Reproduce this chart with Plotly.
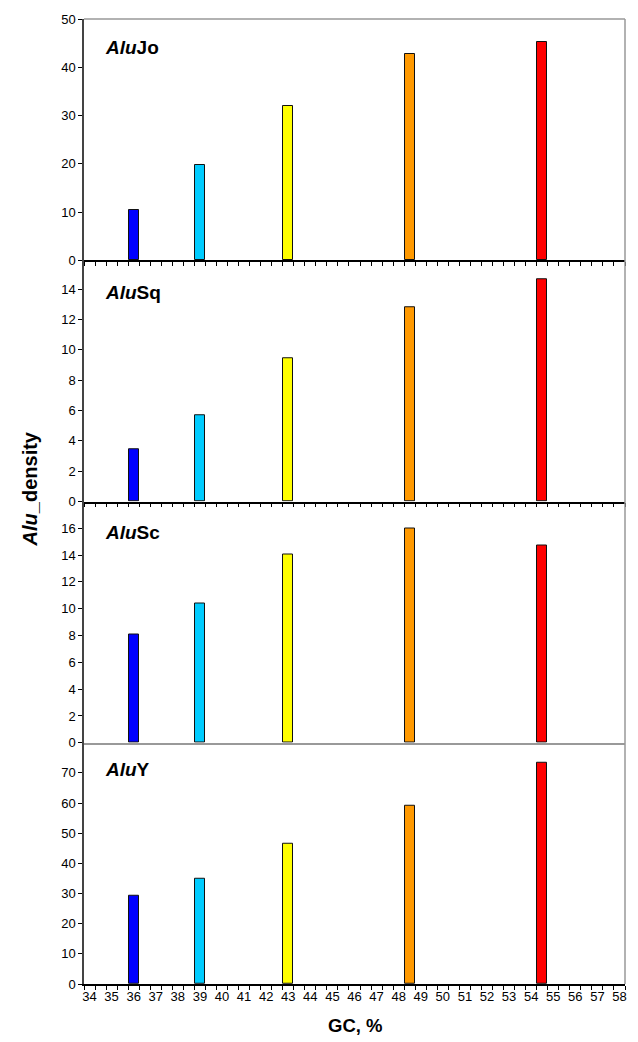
import plotly.graph_objects as go

gc = [36, 39, 43, 48.5, 54.5]
colors = ["#0000FF", "#00CCFF", "#FFFF00", "#FF9900", "#FF0000"]
panel_names = ["<b><i>Alu</i>Jo</b>", "<b><i>Alu</i>Sq</b>", "<b><i>Alu</i>Sc</b>", "<b><i>Alu</i>Y</b>"]
alujo = [10.4, 19.8, 32.0, 42.8, 45.2]
alusq = [3.47, 5.7, 9.45, 12.8, 14.66]
alusc = [8.05, 10.37, 14.08, 15.97, 14.75]
aluy = [29.3, 34.9, 46.6, 59.2, 73.4]
series = [alujo, alusq, alusc, aluy]
y_ranges = [[0, 50], [0, 15.9], [0, 18], [0, 80]]
y_dticks = [10, 2, 2, 10]
y_tickmax = [50, 14, 16, 70]
x_ticks = list(range(34, 59))

FONT = "Liberation Sans, Arial, sans-serif"
domains = [[0.75, 1.0], [0.5, 0.75], [0.25, 0.5], [0.0, 0.25]]

fig = go.Figure()
layout = dict()
for i, vals in enumerate(series):
    n = i + 1
    xa = "x" if n == 1 else f"x{n}"
    ya = "y" if n == 1 else f"y{n}"
    fig.add_trace(go.Bar(
        x=gc, y=vals, width=0.45, xaxis=xa, yaxis=ya,
        marker=dict(color=colors, line=dict(color="#111", width=1)),
        showlegend=False,
    ))
    xkey = "xaxis" if n == 1 else f"xaxis{n}"
    ykey = "yaxis" if n == 1 else f"yaxis{n}"
    is_gray = (n == 3)
    xdict = dict(
        range=[33.75, 58.25], anchor=ya, domain=[0, 1],
        tickmode="array", tickvals=x_ticks, ticktext=[str(v) for v in x_ticks],
        showticklabels=(n == 4), ticks="",
        showline=True, linecolor="#999" if is_gray else "#000", linewidth=1.5,
        showgrid=False, zeroline=False,
        tickfont=dict(family=FONT, size=13, color="#000"),
        fixedrange=True,
    )
    if not is_gray:
        xdict["minor"] = dict(tickmode="linear", tick0=33.75, dtick=0.5, ticks="outside",
                              ticklen=4, tickcolor="#000", tickwidth=1)
    if n != 1:
        xdict["matches"] = "x"
    layout[xkey] = xdict
    layout[ykey] = dict(
        range=y_ranges[i], domain=domains[i], anchor=xa,
        tickmode="array", tickvals=list(range(0, y_tickmax[i] + 1, y_dticks[i])),
        ticks="outside", ticklen=4, tickcolor="#000", tickwidth=1,
        showline=True, linecolor="#444", linewidth=1.5,
        showgrid=False, zeroline=False,
        tickfont=dict(family=FONT, size=13, color="#000"),
    )

fig.update_layout(**layout)

anns = []
title_y = [0.970, 0.717, 0.468, 0.222]
for i, name in enumerate(panel_names):
    anns.append(dict(text=name, xref="paper", yref="paper", x=0.035, y=title_y[i],
                     xanchor="left", yanchor="middle", showarrow=False,
                     font=dict(family=FONT, size=19, color="#000")))
anns.append(dict(text="<b><i>Alu</i>_density</b>", xref="paper", yref="paper",
                 x=-0.099, y=0.513, textangle=-90, showarrow=False,
                 xanchor="center", yanchor="middle",
                 font=dict(family=FONT, size=20, color="#000")))
anns.append(dict(text="<b>GC, %</b>", xref="paper", yref="paper",
                 x=0.5, y=-0.0425, showarrow=False, xanchor="center", yanchor="middle",
                 font=dict(family=FONT, size=18.5, color="#000")))

shapes = [
    dict(type="line", xref="paper", yref="paper", x0=0, x1=1, y0=1, y1=1,
         line=dict(color="#999", width=1.5)),
    dict(type="line", xref="paper", yref="paper", x0=1, x1=1, y0=0, y1=1,
         line=dict(color="#999", width=1.5)),
]

fig.update_layout(
    width=638, height=1042,
    margin=dict(l=84, r=11, t=19, b=58),
    paper_bgcolor="white", plot_bgcolor="white",
    annotations=anns, shapes=shapes,
    bargap=0,
    font=dict(family=FONT, size=12, color="#000"),
)

fig.write_html("out.html", config={"displayModeBar": False},
               post_script="document.body.style.margin='0';")
